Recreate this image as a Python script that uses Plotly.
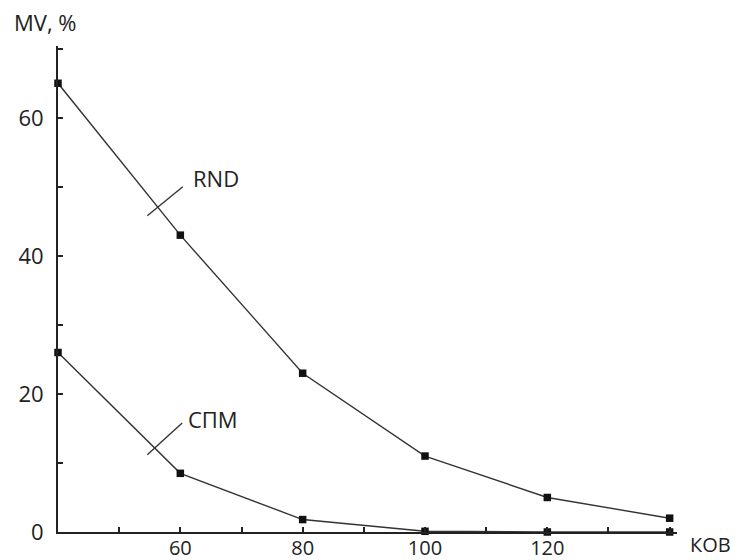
import plotly.graph_objects as go

# Data
kob = [40, 60, 80, 100, 120, 140]
rnd = [65, 43, 23, 11, 5, 2]
spm = [26, 8.5, 1.8, 0.1, 0, 0]

x_tickvals = [60, 80, 100, 120]
x_ticktext = ["60", "80", "100", "120"]
y_tickvals = [0, 20, 40, 60]
y_ticktext = ["0", "20", "40", "60"]

series_names = ["RND", "СПМ"]
label_pos = [(61.8, 51.3), (60.9, 16.3)]          # text anchor (left, middle)
leader_pos = [((60.4, 50.0), (54.6, 45.8)),        # leader lines
              ((60.3, 15.8), (54.6, 11.2))]

FONT = "Open Sans"
FS = 22
TXT = "#222222"
LINE = "#333333"

fig = go.Figure()
for name, ys in zip(series_names, [rnd, spm]):
    fig.add_trace(go.Scatter(
        x=kob, y=ys, mode="lines+markers", name=name,
        line=dict(color=LINE, width=1.4),
        marker=dict(symbol="square", size=7.5, color="#111111"),
        cliponaxis=False, showlegend=False))

for name, (tx, ty), ((x0, y0), (x1, y1)) in zip(series_names, label_pos, leader_pos):
    fig.add_annotation(x=tx, y=ty, text=name, showarrow=False,
                       xanchor="left", yanchor="middle",
                       font=dict(family=FONT, size=FS, color=TXT))
    fig.add_shape(type="line", x0=x0, y0=y0, x1=x1, y1=y1,
                  line=dict(color=LINE, width=1.4))

fig.add_annotation(xref="paper", yref="paper", x=-0.075, y=1.049,
                   text="MV, %", showarrow=False, xanchor="left", yanchor="middle",
                   font=dict(family=FONT, size=FS, color=TXT))
fig.add_annotation(xref="paper", yref="paper", x=1.09, y=-0.026,
                   text="КОВ", showarrow=False, xanchor="right", yanchor="middle",
                   font=dict(family=FONT, size=20, color=TXT))

axis_common = dict(showgrid=False, zeroline=False, showline=True,
                   linecolor="#222222", linewidth=2,
                   ticks="inside", ticklen=5, tickwidth=1.5, tickcolor="#222222")

fig.update_xaxes(range=[40, 141.2], tickvals=x_tickvals, ticktext=x_ticktext,
                 minor=dict(tickvals=[50, 70, 90, 110, 130, 140], ticks="inside",
                            ticklen=5, tickwidth=1.5, tickcolor="#222222"),
                 tickfont=dict(family=FONT, size=20, color=TXT),
                 ticklabelstandoff=-3, **axis_common)
fig.update_yaxes(range=[0, 70.4], tickvals=y_tickvals, ticktext=y_ticktext,
                 minor=dict(tickvals=[10, 30, 50, 70], ticks="inside",
                            ticklen=5, tickwidth=1.5, tickcolor="#222222"),
                 tickfont=dict(family=FONT, size=FS, color=TXT),
                 ticklabelstandoff=8, **axis_common)

fig.update_layout(width=734, height=552,
                  margin=dict(l=50, r=65, t=38, b=28, autoexpand=False),
                  paper_bgcolor="white", plot_bgcolor="white")

fig.write_html("out.html")
